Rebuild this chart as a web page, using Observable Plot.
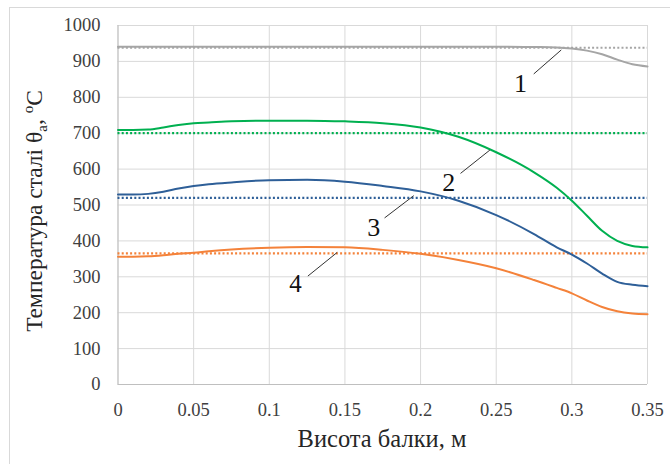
<!DOCTYPE html>
<html><head><meta charset="utf-8">
<script src="https://cdn.jsdelivr.net/npm/d3@7"></script>
<script src="https://cdn.jsdelivr.net/npm/@observablehq/plot@0.6"></script>
<style>html,body{margin:0;padding:0;background:#fff;overflow:hidden}</style>
</head><body><div id="chart"></div>
<script>
// Beam height, m
const xs = [0, 0.01, 0.02, 0.03, 0.04, 0.05, 0.06, 0.075, 0.1, 0.125, 0.15, 0.175, 0.2, 0.225, 0.25, 0.275, 0.29, 0.3, 0.31, 0.32, 0.33, 0.34, 0.35];
// Steel temperature, °C
const curve1 = [941, 941, 941, 941, 941, 941, 941, 941, 941, 941, 941, 941, 941, 941, 941, 940, 939, 936, 930, 920, 905, 892, 886];
const curve2 = [709, 709, 710, 716, 723, 728, 730, 733, 735, 735, 733, 728, 716, 690, 647, 591, 548, 512, 470, 428, 400, 386, 382];
const curve3 = [529, 529, 531, 537, 546, 553, 558, 563, 569, 570, 565, 553, 538, 512, 472, 419, 382, 362, 337, 309, 286, 278, 274];
const curve4 = [356, 356, 357, 360, 364, 367, 371, 376, 381, 383, 382, 375, 364, 347, 324, 291, 269, 254, 234, 216, 204, 198, 196];
const refLevels = [938, 700, 520, 365];
const seriesNames = ["1", "2", "3", "4"];
const seriesColors = ["#a5a5a5", "#00b050", "#2e5f98", "#f4823a"];
const xTicks = [0, 0.05, 0.1, 0.15, 0.2, 0.25, 0.3, 0.35];
const yTicks = [0, 100, 200, 300, 400, 500, 600, 700, 800, 900, 1000];
// callouts (data units)
const labelX = [0.266, 0.2187, 0.169, 0.1173];
const labelY = [838, 563, 438, 280];
const arrowX1 = [0.2748, 0.2264, 0.1762, 0.1255];
const arrowY1 = [865, 588, 464, 302];
const arrowX2 = [0.293, 0.2458, 0.1955, 0.1449];
const arrowY2 = [932, 653, 526, 368];
const xTitle = "Висота балки, м";

const SERIF = '"Liberation Serif", "Times New Roman", serif';
const SANS = '"Liberation Sans", Arial, sans-serif';

const curves = [curve1, curve2, curve3, curve4];
const rows = curves.flatMap((c, i) => c.map((v, j) => ({x: xs[j], y: v, s: seriesNames[i]})));
const refRows = refLevels.map((v, i) => ({y: v, s: seriesNames[i]}));
const callouts = seriesNames.map((s, i) => ({s, lx: labelX[i], ly: labelY[i], x1: arrowX1[i], y1: arrowY1[i], x2: arrowX2[i], y2: arrowY2[i]}));

const chart = Plot.plot({
  width: 670, height: 464,
  marginLeft: 117.5, marginRight: 23, marginTop: 25, marginBottom: 80,
  style: {fontSize: "18.5px", color: "#404040", background: "transparent", overflow: "visible"},
  x: {domain: [0, 0.35], ticks: xTicks, tickSize: 0, tickPadding: 18, label: null, tickFormat: d => String(d)},
  y: {domain: [0, 1000], ticks: yTicks, tickSize: 0, tickPadding: 17.5, label: null, tickFormat: d => String(d)},
  color: {domain: seriesNames, range: seriesColors},
  marks: [
    Plot.ruleX(xTicks, {stroke: "#d9d9d9", strokeWidth: 1}),
    Plot.ruleY(yTicks, {stroke: "#d9d9d9", strokeWidth: 1}),
    Plot.ruleX([0], {stroke: "#bfbfbf", strokeWidth: 1}),
    Plot.ruleY([0], {stroke: "#bfbfbf", strokeWidth: 1}),
    Plot.ruleY(refRows, {y: "y", stroke: "s", strokeWidth: 2.2, strokeDasharray: "2 2.2"}),
    Plot.line(rows, {x: "x", y: "y", z: "s", stroke: "s", strokeWidth: 2, curve: "monotone-x"}),
    Plot.link(callouts, {x1: "x1", y1: "y1", x2: "x2", y2: "y2", stroke: "#333", strokeWidth: 1, ariaLabel: "callout"}),
    Plot.text(callouts.slice(0, 3), {x: "lx", y: "ly", text: "s", fontSize: 26, fill: "#111"}),
    Plot.text(callouts.slice(3), {x: "lx", y: "ly", text: "s", fontSize: 25, fill: "#111", ariaLabel: "sanslabel"})
  ]
});
document.getElementById("chart").appendChild(chart);

const svg = d3.select(chart);
// outer frame
svg.insert("rect", ":first-child").attr("x", 9.5).attr("y", 7.5).attr("width", 700).attr("height", 500)
  .attr("fill", "none").attr("stroke", "#d9d9d9");
// filled arrowheads
svg.append("defs").append("marker").attr("id", "ahead")
  .attr("viewBox", "0 0 10 7").attr("refX", 10).attr("refY", 3.5)
  .attr("markerWidth", 10).attr("markerHeight", 7).attr("markerUnits", "userSpaceOnUse").attr("orient", "auto")
  .append("path").attr("d", "M0,0L10,3.5L0,7Z").attr("fill", "#111");
svg.selectAll('g[aria-label="callout"] path').attr("marker-end", "url(#ahead)");

// y title with sub/superscript
const yt = svg.append("text").attr("transform", "translate(42,211) rotate(-90)")
  .attr("text-anchor", "middle").attr("font-size", 23.5).attr("fill", "#262626");
yt.append("tspan").text("Температура сталі θ");
yt.append("tspan").attr("font-size", 15).attr("dy", 5).text("a");
yt.append("tspan").attr("dy", -5).text(", ");
yt.append("tspan").attr("font-size", 15).attr("dy", -9).text("o");
yt.append("tspan").attr("dy", 9).text("C");

// x title
svg.append("text").attr("x", 382).attr("y", 447).attr("text-anchor", "middle")
  .attr("font-size", 24.5).attr("fill", "#262626").text(xTitle);

// force fonts
svg.attr("font-family", SERIF).style("font-family", SERIF, "important");
svg.selectAll("g").style("font-family", SERIF, "important");
svg.selectAll("text").style("font-family", SERIF, "important");
svg.selectAll('g[aria-label="sanslabel"] text').style("font-family", SANS, "important");
</script></body></html>
